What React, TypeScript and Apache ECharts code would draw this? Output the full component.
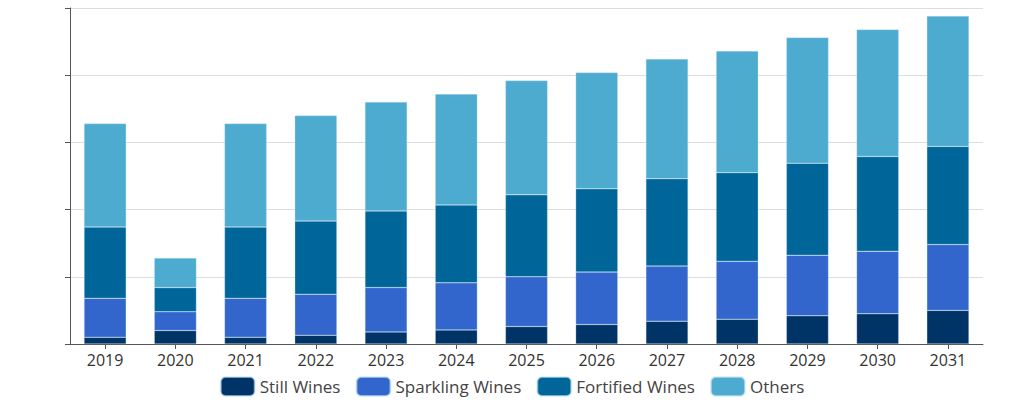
import React, { useEffect, useRef } from "react";
import * as echarts from "echarts";

const years = ["2019", "2020", "2021", "2022", "2023", "2024", "2025", "2026", "2027", "2028", "2029", "2030", "2031"];
const stillWines = [10, 20, 10, 13, 18, 21, 26, 29, 34, 37, 42, 45, 50];
const sparklingWines = [58, 28, 58, 61, 66, 70, 74, 78, 82, 86, 90, 93, 98];
const fortifiedWines = [106, 36, 106, 109, 114, 116, 122, 124, 130, 132, 137, 141, 146];
const others = [154, 44, 154, 157, 162, 165, 170, 173, 178, 181, 187, 189, 194];
const yTicks = [0, 100, 200, 300, 400, 500];

const seriesDefs = [
  { name: "Still Wines", data: stillWines, color: "#003366" },
  { name: "Sparkling Wines", data: sparklingWines, color: "#3366CC" },
  { name: "Fortified Wines", data: fortifiedWines, color: "#006699" },
  { name: "Others", data: others, color: "#4EABD0" },
];

export default function App() {
  const ref = useRef<HTMLDivElement>(null);
  useEffect(() => {
    document.body.style.margin = "0";
    if (!ref.current) return;
    const chart = echarts.init(ref.current, null, { renderer: "svg" });
    chart.setOption({
      animation: false,
      textStyle: { fontFamily: "Open Sans" },
      grid: { left: 70, right: 41, top: 8, bottom: 59 },
      legend: {
        top: 371,
        left: "center",
        itemWidth: 34,
        itemHeight: 19,
        itemGap: 15,
        icon: "roundRect",
        textStyle: { fontSize: 17, color: "#444", fontFamily: "Open Sans" },
        data: seriesDefs.map((s) => s.name),
      },
      xAxis: {
        type: "category",
        data: years,
        axisLine: { show: true, lineStyle: { color: "#555" } },
        axisTick: { show: true, alignWithLabel: true, lineStyle: { color: "#555" } },
        axisLabel: { fontSize: 16, color: "#333", margin: 8 },
      },
      yAxis: {
        type: "value",
        min: yTicks[0],
        max: yTicks[yTicks.length - 1],
        interval: 100,
        axisLine: { show: true, lineStyle: { color: "#555" } },
        axisTick: { show: true, lineStyle: { color: "#555" } },
        axisLabel: { color: "#ffffff", fontSize: 14 },
        splitLine: { lineStyle: { color: "#dddddd" } },
      },
      series: seriesDefs.map((s) => ({
        name: s.name,
        type: "bar",
        stack: "total",
        barWidth: "60%",
        data: s.data,
        itemStyle: { color: s.color, borderColor: "rgba(200,230,245,0.6)", borderWidth: 0.5 },
      })),
    });
    return () => chart.dispose();
  }, []);
  return <div ref={ref} style={{ width: 1024, height: 403 }} />;
}
